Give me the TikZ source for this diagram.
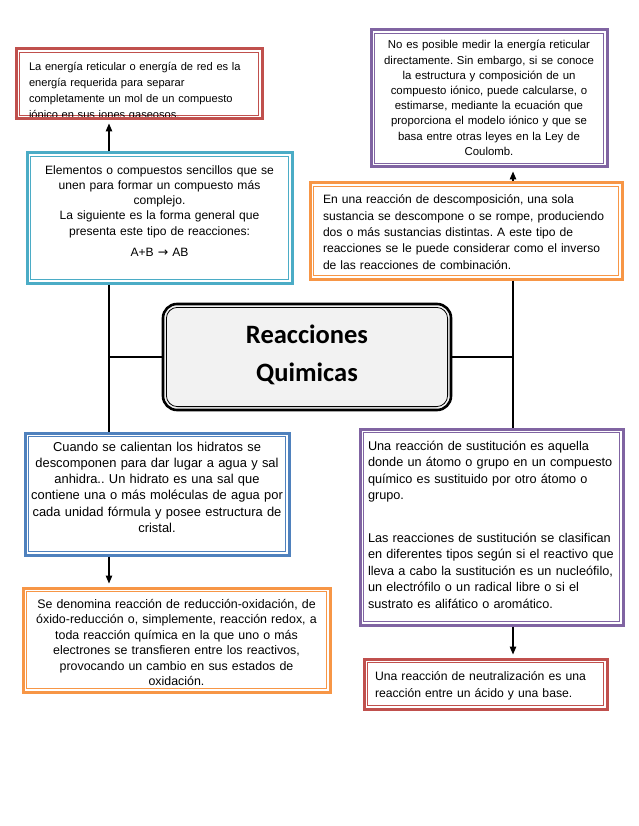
\documentclass[tikz,border=0pt]{standalone}
\usepackage{fontspec}
\setmainfont{Liberation Sans}
\newfontfamily\titlefont{Carlito}
\newfontfamily\symfont{DejaVu Sans}
\usetikzlibrary{arrows.meta}
\frenchspacing
\hyphenpenalty=10000
\exhyphenpenalty=10000

\definecolor{redc}{HTML}{C0504D}
\definecolor{purplec}{HTML}{8064A2}
\definecolor{aquac}{HTML}{4BACC6}
\definecolor{bluec}{HTML}{4F81BD}
\definecolor{orangec}{HTML}{F79646}
\definecolor{titlefill}{HTML}{F2F2F2}

\tikzset{
  dbox/.style={draw=#1, line width=3pt, fill=white, inner ysep=0pt,
    path picture={\draw[#1, line width=0.8pt]
      ([shift={(3.2pt,3.2pt)}]path picture bounding box.south west) rectangle
      ([shift={(-3.2pt,-3.2pt)}]path picture bounding box.north east);}},
  tbox/.style={draw=black, line width=2.6pt, fill=titlefill, rounded corners=14pt, inner ysep=0pt,
    path picture={\draw[black, line width=0.8pt, rounded corners=11pt]
      ([shift={(3.4pt,3.4pt)}]path picture bounding box.south west) rectangle
      ([shift={(-3.4pt,-3.4pt)}]path picture bounding box.north east);}},
  link/.style={line width=1.2pt},
  arr/.style={link, -{Triangle[length=8pt,width=6.5pt]}, shorten >=3pt}
}

\begin{document}
\begin{tikzpicture}[x=1pt, y=-1pt]
\useasboundingbox (0,0) rectangle (638,826);

% top left box, its last line is cut off by the frame
\begin{scope}
\clip (0,0) rectangle (638,117.6);
\node[dbox=redc, text width=220pt, inner xsep=13pt, align=left, text height=22pt, text depth=48pt,
  font=\fontsize{11.1}{16}\selectfont] (red1) at (139,84)
  {La energía reticular o energía de red es la\\
   energía requerida para separar\\
   completamente un mol de un compuesto\\
   iónico en sus iones gaseosos.};
\end{scope}
\draw[redc, line width=3pt] ([yshift=1.5pt]red1.south west) -- ([yshift=1.5pt]red1.south east);

\node[dbox=purplec, text width=220pt, inner xsep=8pt, align=center, text height=19pt, text depth=118pt,
  font=\fontsize{11.4}{15.2}\selectfont] (purple1) at (489,98.5)
  {No es posible medir la energía reticular\\
   directamente. Sin embargo, si se conoce\\
   la estructura y composición de un\\
   compuesto iónico, puede calcularse, o\\
   estimarse, mediante la ecuación que\\
   proporciona el modelo iónico y que se\\
   basa entre otras leyes en la Ley de\\
   Coulomb.};

\node[dbox=aquac, text width=249pt, inner xsep=8pt, align=center, text height=22pt, text depth=108pt,
  font=\fontsize{12.1}{14.8}\selectfont] (blue1) at (159.5,218)
  {Elementos o compuestos sencillos que se\\
   unen para formar un compuesto más\\
   complejo.\\
   La siguiente es la forma general que\\[1.5pt]
   presenta este tipo de reacciones:\\[6.5pt]
   A+B {\symfont\fontsize{12.5}{14}\selectfont →} AB};

\node[dbox=orangec, text width=286pt, inner xsep=13pt, align=left, text height=21pt, text depth=75pt,
  font=\fontsize{12.1}{16.3}\selectfont] (orange1) at (466,231)
  {En una reacción de descomposición, una sola\\
   sustancia se descompone o se rompe, produciendo\\
   dos o más sustancias distintas. A este tipo de\\
   reacciones se le puede considerar como el inverso\\
   de las reacciones de combinación.};

\node[tbox, text width=272pt, inner xsep=8pt, align=center, text height=39pt, text depth=67pt,
  font=\titlefont\bfseries\fontsize{26.5}{38}\selectfont] (title) at (307,357)
  {Reacciones\\Quimicas};

\node[dbox=bluec, text width=256pt, inner xsep=4pt, align=center, text height=18pt, text depth=104pt,
  font=\fontsize{12.9}{16.3}\selectfont] (blue2) at (157,494)
  {Cuando se calientan los hidratos se\\
   descomponen para dar lugar a agua y sal\\
   anhidra.. Un hidrato es una sal que\\
   contiene una o más moléculas de agua por\\
   cada unidad fórmula y posee estructura de\\
   cristal.};

\node[dbox=purplec, text width=247pt, inner xsep=8pt, align=left, text height=21pt, text depth=175pt,
  font=\fontsize{12.7}{16.5}\selectfont] (purple2) at (491.5,527)
  {Una reacción de sustitución es aquella\\
   donde un átomo o grupo en un compuesto\\
   químico es sustituido por otro átomo o\\
   grupo.\\[26pt]
   Las reacciones de sustitución se clasifican\\
   en diferentes tipos según si el reactivo que\\
   lleva a cabo la sustitución es un nucleófilo,\\
   un electrófilo o un radical libre o si el\\
   sustrato es alifático o aromático.};

\node[dbox=orangec, text width=287pt, inner xsep=10pt, align=center, text height=20pt, text depth=84pt,
  font=\fontsize{12.4}{15.5}\selectfont] (orange2) at (176.5,640)
  {Se denomina reacción de reducción-oxidación, de\\
   óxido-reducción o, simplemente, reacción redox, a\\
   toda reacción química en la que uno o más\\
   electrones se transfieren entre los reactivos,\\
   provocando un cambio en sus estados de\\
   oxidación.};

\node[dbox=redc, text width=221pt, inner xsep=11pt, align=left, text height=21pt, text depth=29pt,
  font=\fontsize{12.2}{17}\selectfont] (red2) at (485.5,684)
  {Una reacción de neutralización es una\\
   reacción entre un ácido y una base.};

\coordinate (lx) at (109,357);
\coordinate (rx) at (513,357);

\draw[link] (title.west) -- (lx);
\draw[link] (title.east) -- (rx);
\draw[link] (lx |- blue1.south) -- (lx |- blue2.north);
\draw[link] (rx |- orange1.south) -- (rx |- purple2.north);

\draw[arr] (lx |- blue1.north) -- (lx |- red1.south);
\draw[arr] (lx |- blue2.south) -- (lx |- orange2.north);
\draw[arr] (rx |- orange1.north) -- (rx |- purple1.south);
\draw[arr] (rx |- purple2.south) -- (rx |- red2.north);
\end{tikzpicture}
\end{document}
